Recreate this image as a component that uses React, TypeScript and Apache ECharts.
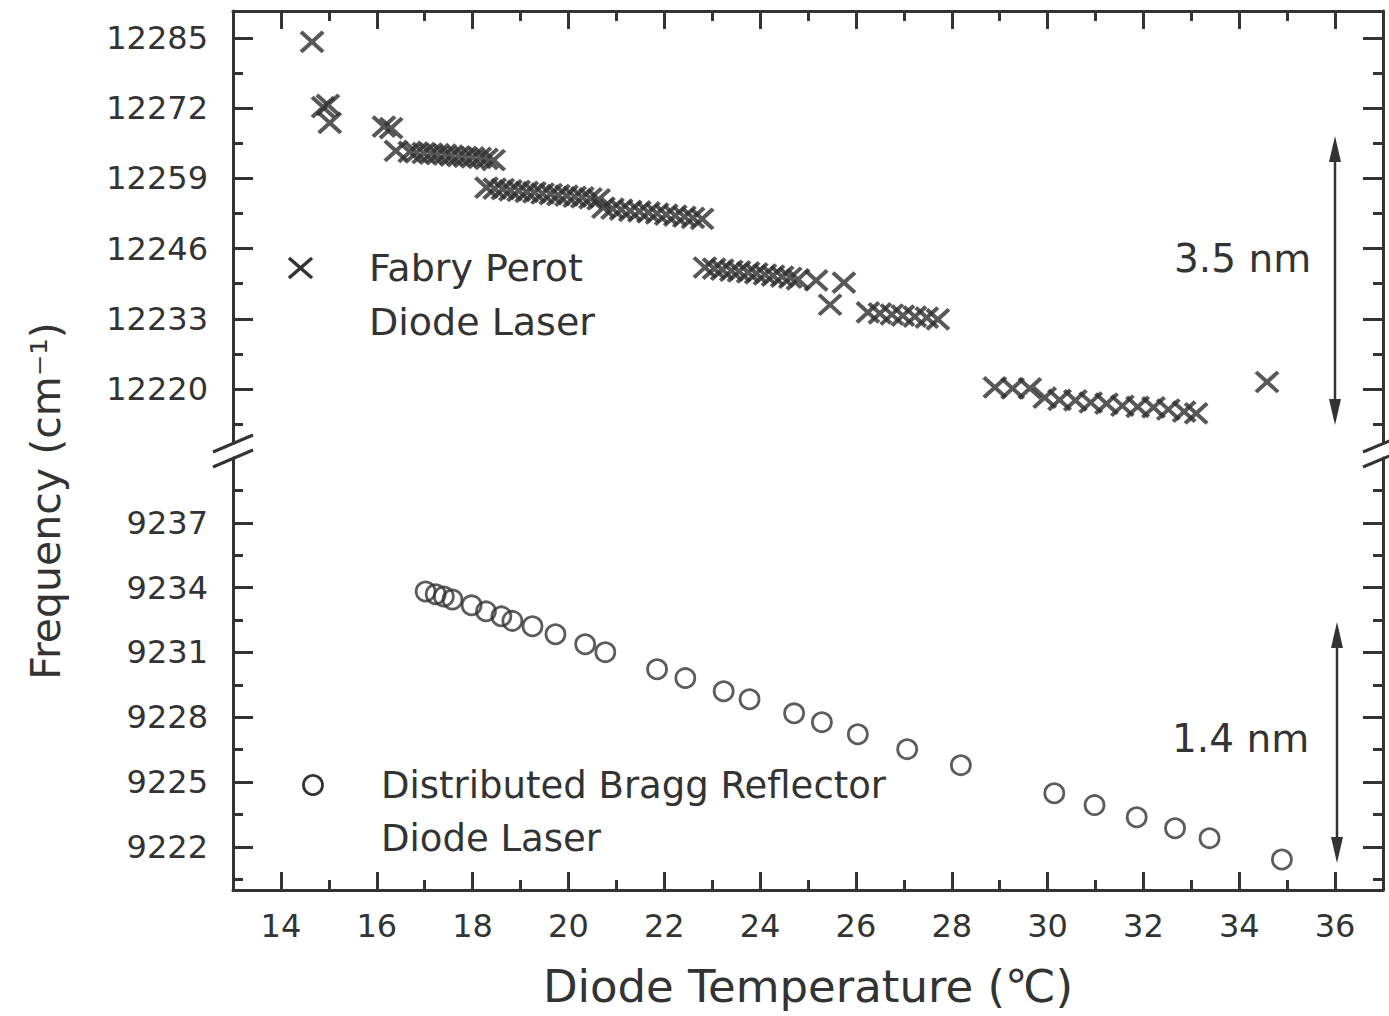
import React, { useEffect, useRef } from "react";
import * as echarts from "echarts";

// ---- Data ----
const fpTemp = [
  14.65, 14.88, 14.98, 15.02, 16.15, 16.3,
  16.4, 16.69, 16.83, 16.98, 17.13, 17.27, 17.42, 17.56, 17.71, 17.85, 18.0, 18.15, 18.29, 18.44,
  18.29, 18.46, 18.63, 18.79, 18.96, 19.13, 19.29, 19.46, 19.63, 19.79, 19.96, 20.13, 20.29, 20.46, 20.63,
  20.73, 20.92, 21.1, 21.29, 21.48, 21.67, 21.85, 22.04, 22.23, 22.42, 22.6, 22.79,
  22.85, 23.04, 23.21, 23.4, 23.56, 23.75, 23.92, 24.1, 24.27, 24.46, 24.63, 24.79,
  25.17, 25.75, 25.46,
  26.25, 26.5, 26.75, 26.98, 27.23, 27.48, 27.71,
  28.9, 29.27, 29.63, 29.94, 30.25, 30.58, 30.9, 31.23, 31.56, 31.88, 32.21, 32.52, 32.85, 33.1,
  34.58,
];
const fpFreq = [
  12284.3, 12272.2, 12272.6, 12269.3, 12268.6, 12268.3,
  12264.1, 12263.9, 12263.8, 12263.7, 12263.6, 12263.5, 12263.4, 12263.2, 12263.1, 12263.0, 12262.9, 12262.8, 12262.6, 12262.4,
  12257.3, 12257.1, 12257.0, 12256.8, 12256.7, 12256.5, 12256.4, 12256.2, 12256.1, 12255.9, 12255.8, 12255.6, 12255.5, 12255.3, 12255.1,
  12253.6, 12253.4, 12253.2, 12253.0, 12252.9, 12252.7, 12252.5, 12252.3, 12252.1, 12251.9, 12251.7, 12251.5,
  12242.5, 12242.3, 12242.1, 12241.9, 12241.8, 12241.6, 12241.4, 12241.2, 12241.0, 12240.8, 12240.6, 12240.3,
  12240.1, 12239.7, 12235.6,
  12234.2, 12234.0, 12233.8, 12233.6, 12233.4, 12233.2, 12232.9,
  12220.3, 12220.1, 12220.1, 12218.4, 12218.0, 12217.9, 12217.5, 12217.3, 12216.9, 12216.7, 12216.6, 12216.2, 12215.8, 12215.5,
  12221.3,
];
const dbrTemp = [
  17.02, 17.23, 17.4, 17.58, 17.98, 18.28, 18.6, 18.83, 19.25, 19.73, 20.35, 20.77,
  21.85, 22.44, 23.24, 23.78, 24.71, 25.29, 26.04, 27.07, 28.19,
  30.14, 30.98, 31.86, 32.66, 33.38, 34.89,
];
const dbrFreq = [
  9233.82, 9233.69, 9233.59, 9233.45, 9233.18, 9232.9, 9232.67, 9232.46, 9232.21, 9231.84, 9231.38, 9231.01,
  9230.22, 9229.81, 9229.2, 9228.83, 9228.18, 9227.77, 9227.21, 9226.52, 9225.78,
  9224.48, 9223.93, 9223.37, 9222.86, 9222.4, 9221.41,
];

const xMajor = [14, 16, 18, 20, 22, 24, 26, 28, 30, 32, 34, 36];
const xMinor = [15, 17, 19, 21, 23, 25, 27, 29, 31, 33, 35];
const topMajor = [12220, 12233, 12246, 12259, 12272, 12285];
const topMinor = [12213.5, 12226.5, 12239.5, 12252.5, 12265.5, 12278.5];
const botMajor = [9222, 9225, 9228, 9231, 9234, 9237];
const botMinor = [9220.5, 9223.5, 9226.5, 9229.5, 9232.5, 9235.5, 9238.5];

const C = "#333333";
const FONT = "DejaVu Sans";
const plain = (v: number) => String(v);

function xAx(grid: number, position: string, ticks: number[], len: number, labels: boolean, line: boolean) {
  return {
    type: "value",
    gridIndex: grid,
    position,
    min: 13,
    max: 37,
    axisLine: { show: line, onZero: false, lineStyle: { color: C, width: 3 } },
    axisTick: { show: true, inside: true, length: len, customValues: ticks, lineStyle: { color: C, width: 3 } },
    axisLabel: {
      show: labels,
      customValues: ticks,
      formatter: plain,
      color: C,
      fontFamily: FONT,
      fontSize: 32,
      margin: 20,
    },
    splitLine: { show: false },
  };
}

function yAx(grid: number, position: string, min: number, max: number, ticks: number[], len: number, labels: boolean, line: boolean) {
  return {
    type: "value",
    gridIndex: grid,
    position,
    min,
    max,
    axisLine: { show: line, onZero: false, lineStyle: { color: C, width: 3 } },
    axisTick: { show: true, inside: true, length: len, customValues: ticks, lineStyle: { color: C, width: 3 } },
    axisLabel: {
      show: labels,
      customValues: ticks,
      formatter: plain,
      color: C,
      fontFamily: FONT,
      fontSize: 32,
      margin: 25,
    },
    splitLine: { show: false },
  };
}

function arrow(x: number, y1: number, y2: number) {
  const hw = 6;
  const hl = 26;
  return [
    { type: "line", shape: { x1: x, y1: y1 + hl - 4, x2: x, y2: y2 - hl + 4 }, style: { stroke: C, lineWidth: 2.5 } },
    { type: "polygon", shape: { points: [[x, y1], [x - hw, y1 + hl], [x + hw, y1 + hl]] }, style: { fill: C } },
    { type: "polygon", shape: { points: [[x, y2], [x - hw, y2 - hl], [x + hw, y2 - hl]] }, style: { fill: C } },
  ];
}

function txt(text: string, x: number, y: number, size: number, align = "left") {
  return {
    type: "text",
    x,
    y,
    style: { text, fill: C, fontFamily: FONT, fontSize: size, align, verticalAlign: "middle" },
  };
}

export default function App() {
  const ref = useRef<HTMLDivElement>(null);
  useEffect(() => {
    if (!ref.current) return;
    const chart = echarts.init(ref.current, null, { renderer: "svg" });
    const option: any = {
      animation: false,
      backgroundColor: "#ffffff",
      textStyle: { fontFamily: FONT },
      grid: [
        { left: 233, right: 6, top: 11, height: 432 },
        { left: 233, right: 6, top: 458, height: 432 },
      ],
      xAxis: [
        xAx(0, "top", xMajor, 18, false, true),
        xAx(0, "top", xMinor, 10, false, false),
        {
          ...xAx(1, "bottom", xMajor, 18, true, true),
          name: "Diode Temperature (℃)",
          nameLocation: "middle",
          nameGap: 74,
          nameTextStyle: { color: C, fontFamily: FONT, fontSize: 45 },
        },
        xAx(1, "bottom", xMinor, 10, false, false),
      ],
      yAxis: [
        yAx(0, "left", 12210, 12290, topMajor, 20, true, true),
        yAx(0, "left", 12210, 12290, topMinor, 10, false, false),
        yAx(0, "right", 12210, 12290, topMajor, 20, false, true),
        yAx(0, "right", 12210, 12290, topMinor, 10, false, false),
        yAx(1, "left", 9220, 9240, botMajor, 20, true, true),
        yAx(1, "left", 9220, 9240, botMinor, 10, false, false),
        yAx(1, "right", 9220, 9240, botMajor, 20, false, true),
        yAx(1, "right", 9220, 9240, botMinor, 10, false, false),
      ],
      series: [
        {
          type: "scatter",
          name: "Fabry Perot Diode Laser",
          xAxisIndex: 0,
          yAxisIndex: 0,
          data: fpTemp.map((t, i) => [t, fpFreq[i]]),
          symbol: "path://M0,0L22,20M22,0L0,20",
          symbolSize: [22, 20],
          itemStyle: { color: "none", borderColor: "#2e2e2e", borderWidth: 4 },
        },
        {
          type: "scatter",
          name: "Distributed Bragg Reflector Diode Laser",
          xAxisIndex: 2,
          yAxisIndex: 4,
          data: dbrTemp.map((t, i) => [t, dbrFreq[i]]),
          symbol: "circle",
          symbolSize: 19,
          itemStyle: { color: "rgba(0,0,0,0)", borderColor: C, borderWidth: 2.8 },
        },
      ],
      graphic: [
        // axis break marks
        { type: "line", shape: { x1: 213, y1: 452, x2: 253, y2: 435 }, style: { stroke: C, lineWidth: 3 } },
        { type: "line", shape: { x1: 213, y1: 467, x2: 253, y2: 450 }, style: { stroke: C, lineWidth: 3 } },
        { type: "line", shape: { x1: 1363, y1: 452, x2: 1392, y2: 440 }, style: { stroke: C, lineWidth: 3 } },
        { type: "line", shape: { x1: 1363, y1: 467, x2: 1392, y2: 455 }, style: { stroke: C, lineWidth: 3 } },
        // arrows + annotations
        ...arrow(1335, 136, 425),
        ...arrow(1337, 622, 863),
        txt("3.5 nm", 1174, 258, 39),
        txt("1.4 nm", 1172, 738, 39),
        // legend: Fabry Perot
        { type: "line", shape: { x1: 289, y1: 258, x2: 312, y2: 278 }, style: { stroke: C, lineWidth: 3.5 } },
        { type: "line", shape: { x1: 312, y1: 258, x2: 289, y2: 278 }, style: { stroke: C, lineWidth: 3.5 } },
        txt("Fabry Perot", 369, 268, 38),
        txt("Diode Laser", 369, 322, 38),
        // legend: DBR
        { type: "circle", shape: { cx: 313, cy: 785, r: 9.5 }, style: { fill: "none", stroke: C, lineWidth: 2.8 } },
        txt("Distributed Bragg Reflector", 381, 785, 37),
        txt("Diode Laser", 381, 838, 37),
        // y-axis title
        {
          type: "text",
          x: 46,
          y: 501,
          rotation: Math.PI / 2,
          style: { text: "Frequency (cm⁻¹)", fill: C, fontFamily: FONT, fontSize: 41, align: "center", verticalAlign: "middle" },
        },
      ],
    };
    chart.setOption(option);
    return () => chart.dispose();
  }, []);
  return (
    <div
      ref={ref}
      style={{ position: "fixed", left: 0, top: 0, width: 1389, height: 1016, background: "#fff" }}
    />
  );
}
